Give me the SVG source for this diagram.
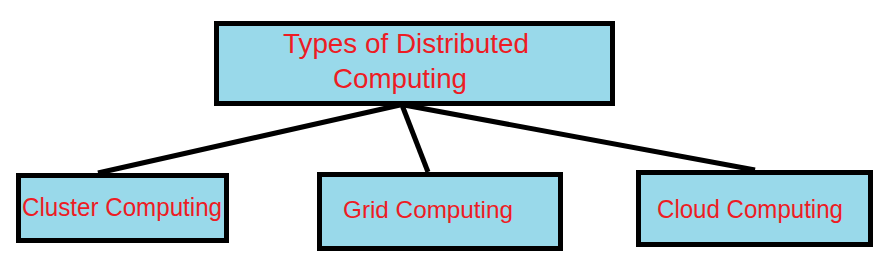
<svg xmlns="http://www.w3.org/2000/svg" width="883" height="277" viewBox="0 0 883 277">
<style>
.box{fill:#99D9EA;stroke:#000;stroke-width:5}
.lbl{font-family:"Liberation Sans",Arial,sans-serif;fill:#ED1C24}
.conn{stroke:#000;stroke-width:5;fill:none}
</style>
<rect width="883" height="277" fill="#fff"/>
<g id="connectors">
<line class="conn" x1="400" y1="105" x2="98" y2="173"/>
<line class="conn" x1="402" y1="105" x2="428" y2="172"/>
<line class="conn" x1="404" y1="105" x2="755" y2="170"/>
</g>
<g id="root">
<rect class="box" x="216.5" y="23.5" width="396" height="80"/>
<text class="lbl" x="283" y="53" font-size="27.5" textLength="246" lengthAdjust="spacingAndGlyphs">Types of Distributed</text>
<text class="lbl" x="333" y="88" font-size="27.5" textLength="134" lengthAdjust="spacingAndGlyphs">Computing</text>
</g>
<g id="cluster">
<rect class="box" x="18.5" y="175.5" width="208" height="65"/>
<text class="lbl" x="22" y="216" font-size="25" textLength="200" lengthAdjust="spacingAndGlyphs">Cluster Computing</text>
</g>
<g id="grid">
<rect class="box" x="319.5" y="174.5" width="241" height="74"/>
<text class="lbl" x="343" y="218" font-size="24" textLength="170" lengthAdjust="spacingAndGlyphs">Grid Computing</text>
</g>
<g id="cloud">
<rect class="box" x="638.5" y="172.5" width="232" height="72"/>
<text class="lbl" x="657" y="218" font-size="25" textLength="186" lengthAdjust="spacingAndGlyphs">Cloud Computing</text>
</g>
</svg>
